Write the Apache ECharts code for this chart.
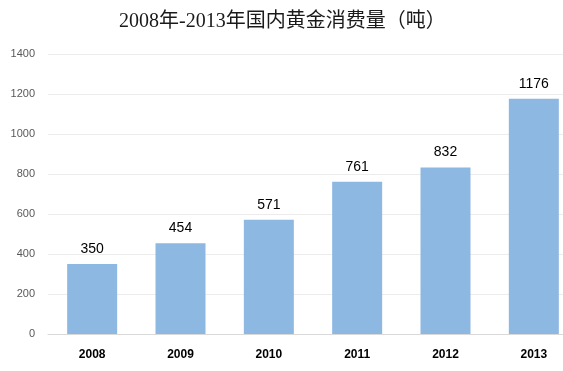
<!DOCTYPE html>
<html><head><meta charset="utf-8">
<script src="https://cdn.jsdelivr.net/npm/echarts@6/dist/echarts.min.js"></script>
<style>html,body{margin:0;padding:0;background:#fff;overflow:hidden;width:563px;height:371px}#c{width:578px;height:371px}</style>
</head><body><div id="c"></div>
<script>
const categories = ['2008','2009','2010','2011','2012','2013'];
const values = [350, 454, 571, 761, 832, 1176];
const yTicks = [0, 200, 400, 600, 800, 1000, 1200, 1400];

const chart = echarts.init(document.getElementById('c'), null, {renderer:'canvas'});
chart.setOption({
  animation: false,
  backgroundColor: '#fff',
  title: {
    text: '2008年-2013年国内黄金消费量（吨）',
    left: 114, top: 7,
    textStyle: {fontFamily: '"Liberation Serif", "Noto Sans CJK SC", serif', fontSize: 20, fontWeight: 'normal', color: '#1a1a1a'}
  },
  grid: {left: 48, right: 0, top: 54, bottom: 37, containLabel: false, outerBoundsMode: 'none'},
  xAxis: {
    type: 'category', data: categories,
    axisLine: {lineStyle: {color: '#d9d9d9'}},
    axisTick: {show: false},
    axisLabel: {color: '#000', fontWeight: 'bold', fontSize: 12, margin: 15, fontFamily: 'Liberation Sans, sans-serif'}
  },
  yAxis: {
    type: 'value', min: yTicks[0], max: yTicks[yTicks.length-1], interval: 200,
    axisLine: {show: false}, axisTick: {show: false},
    splitLine: {lineStyle: {color: '#ececec'}},
    axisLabel: {color: '#595959', fontSize: 11, margin: 13, fontFamily: 'Liberation Sans, sans-serif', formatter: v => String(v)}
  },
  series: [{
    type: 'bar', data: values, barWidth: 50,
    itemStyle: {color: '#8db8e2'},
    label: {show: true, position: 'top', distance: 8, color: '#000', fontSize: 14, fontFamily: 'Liberation Sans, sans-serif'}
  }]
});
</script></body></html>
